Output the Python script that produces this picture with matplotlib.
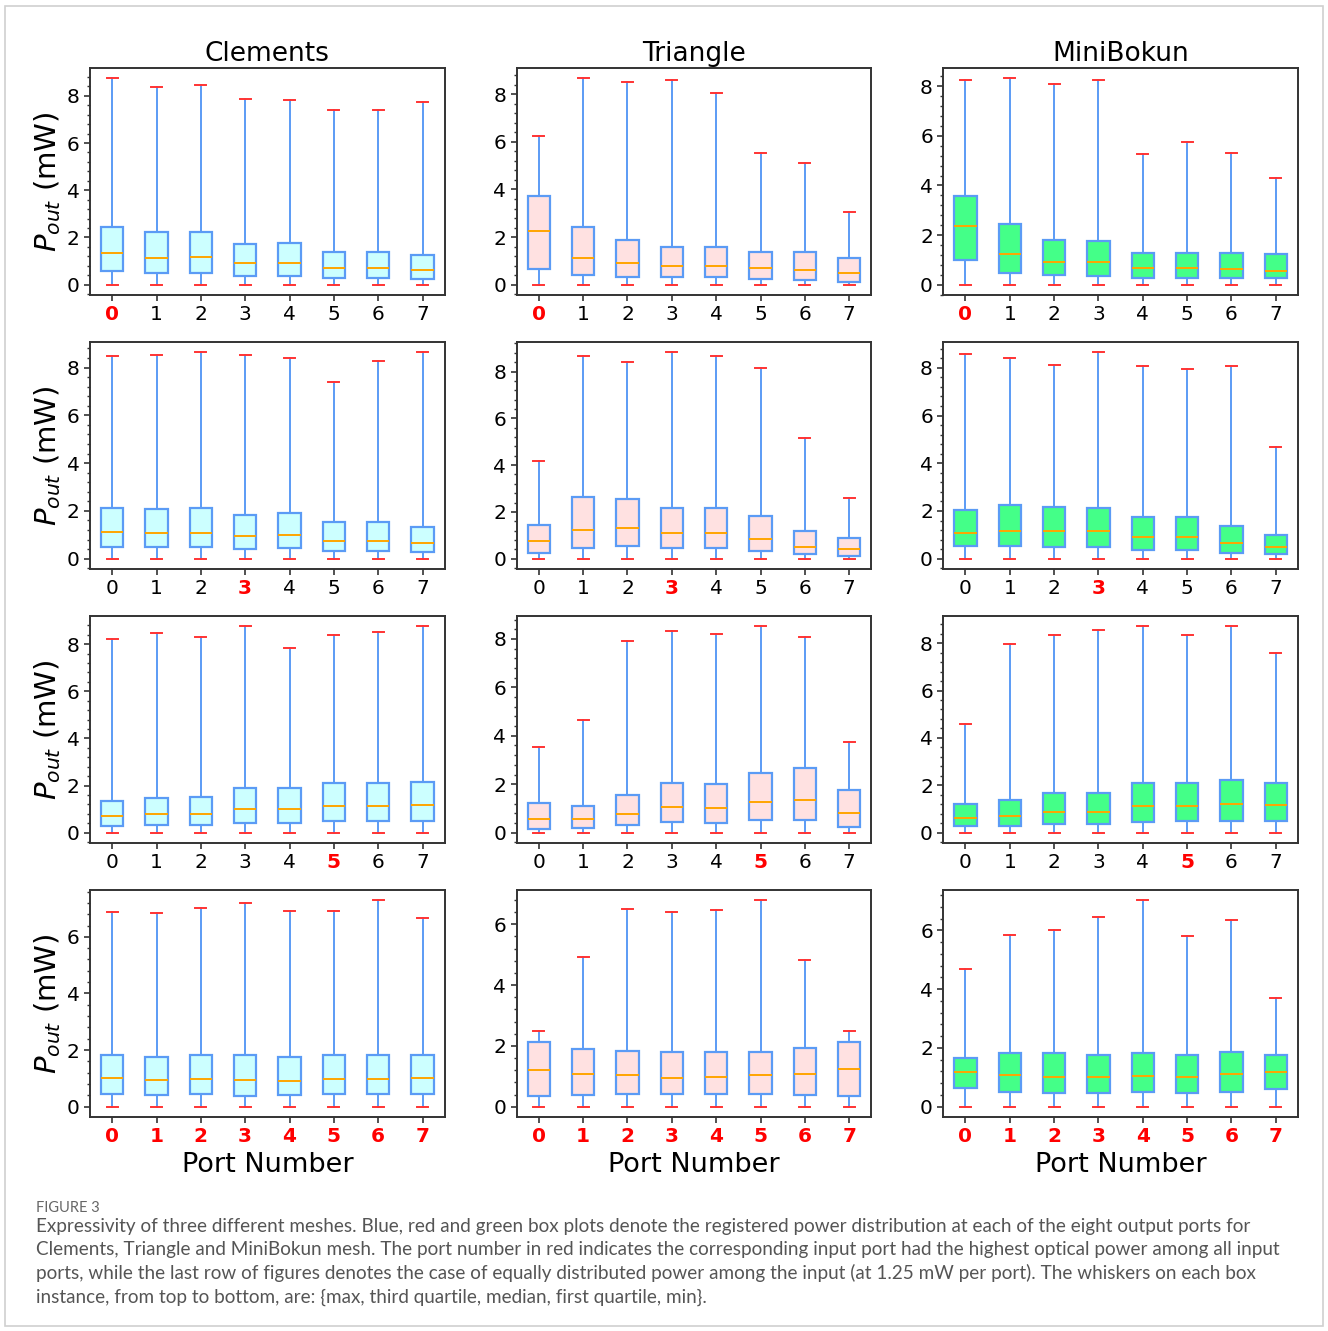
import matplotlib.pyplot as plt
from matplotlib.patches import Rectangle
from matplotlib.ticker import AutoMinorLocator

meshes = ['Clements', 'Triangle', 'MiniBokun']
ports = [0, 1, 2, 3, 4, 5, 6, 7]
# input port with the highest power, per row (last row: equal power)
highlight = [[0], [3], [5], [0, 1, 2, 3, 4, 5, 6, 7]]

# Clements, one list of 8 ports per row
clements_max = [[8.74, 8.37, 8.45, 7.86, 7.83, 7.40, 7.40, 7.72],
                [8.47, 8.52, 8.64, 8.52, 8.40, 7.41, 8.27, 8.64],
                [8.21, 8.47, 8.30, 8.76, 7.85, 8.40, 8.51, 8.76],
                [6.88, 6.84, 7.02, 7.19, 6.91, 6.91, 7.29, 6.68]]
clements_q3 = [[2.46, 2.22, 2.22, 1.71, 1.77, 1.40, 1.40, 1.26],
               [2.14, 2.07, 2.11, 1.84, 1.93, 1.53, 1.53, 1.33],
               [1.36, 1.48, 1.53, 1.88, 1.88, 2.10, 2.10, 2.14],
               [1.84, 1.77, 1.81, 1.81, 1.77, 1.81, 1.84, 1.84]]
clements_med = [[1.36, 1.15, 1.19, 0.91, 0.91, 0.70, 0.70, 0.62],
                [1.12, 1.08, 1.08, 0.97, 1.00, 0.76, 0.76, 0.65],
                [0.70, 0.79, 0.79, 1.00, 1.00, 1.13, 1.13, 1.17],
                [1.02, 0.95, 0.99, 0.95, 0.92, 0.99, 0.99, 1.02]]
clements_q1 = [[0.58, 0.49, 0.49, 0.38, 0.38, 0.28, 0.28, 0.25],
               [0.49, 0.49, 0.49, 0.39, 0.43, 0.31, 0.31, 0.26],
               [0.28, 0.34, 0.34, 0.42, 0.42, 0.51, 0.51, 0.51],
               [0.45, 0.41, 0.45, 0.36, 0.41, 0.45, 0.45, 0.45]]

# Triangle
triangle_max = [[6.26, 8.67, 8.50, 8.59, 8.04, 5.52, 5.11, 3.05],
                [4.16, 8.65, 8.40, 8.82, 8.68, 8.14, 5.16, 2.59],
                [3.53, 4.65, 7.91, 8.34, 8.22, 8.52, 8.07, 3.76],
                [2.48, 4.91, 6.51, 6.40, 6.48, 6.79, 4.82, 2.48]]
triangle_q3 = [[3.71, 2.44, 1.87, 1.59, 1.59, 1.38, 1.38, 1.13],
               [1.43, 2.63, 2.55, 2.15, 2.18, 1.84, 1.18, 0.89],
               [1.24, 1.12, 1.57, 2.04, 2.00, 2.48, 2.67, 1.75],
               [2.12, 1.90, 1.83, 1.80, 1.80, 1.80, 1.93, 2.12]]
triangle_med = [[2.24, 1.13, 0.91, 0.77, 0.77, 0.68, 0.60, 0.49],
                [0.74, 1.23, 1.32, 1.08, 1.10, 0.86, 0.52, 0.41],
                [0.56, 0.56, 0.77, 1.04, 1.00, 1.27, 1.35, 0.81],
                [1.21, 1.06, 1.03, 0.95, 0.99, 1.03, 1.09, 1.25]]
triangle_q1 = [[0.64, 0.40, 0.31, 0.31, 0.31, 0.24, 0.20, 0.13],
               [0.24, 0.44, 0.54, 0.45, 0.45, 0.31, 0.20, 0.11],
               [0.15, 0.19, 0.33, 0.44, 0.41, 0.52, 0.52, 0.23],
               [0.35, 0.38, 0.43, 0.43, 0.43, 0.43, 0.38, 0.35]]

# MiniBokun
minibokun_max = [[8.27, 8.32, 8.08, 8.27, 5.26, 5.74, 5.31, 4.29],
                 [8.57, 8.40, 8.12, 8.65, 8.08, 7.93, 8.08, 4.67],
                 [4.60, 7.97, 8.34, 8.57, 8.71, 8.34, 8.71, 7.57],
                 [4.68, 5.83, 6.00, 6.44, 7.02, 5.80, 6.34, 3.69]]
minibokun_q3 = [[3.56, 2.46, 1.82, 1.75, 1.28, 1.28, 1.28, 1.24],
                [2.03, 2.23, 2.18, 2.14, 1.74, 1.74, 1.36, 1.00],
                [1.23, 1.38, 1.69, 1.69, 2.08, 2.08, 2.24, 2.08],
                [1.66, 1.83, 1.83, 1.76, 1.83, 1.76, 1.86, 1.76]]
minibokun_med = [[2.35, 1.23, 0.91, 0.91, 0.66, 0.66, 0.62, 0.55],
                 [1.06, 1.14, 1.18, 1.14, 0.92, 0.92, 0.67, 0.50],
                 [0.62, 0.70, 0.87, 0.87, 1.12, 1.12, 1.20, 1.15],
                 [1.19, 1.08, 1.02, 1.02, 1.05, 1.02, 1.12, 1.19]]
minibokun_q1 = [[0.98, 0.47, 0.39, 0.33, 0.25, 0.25, 0.25, 0.25],
                [0.53, 0.53, 0.49, 0.49, 0.35, 0.35, 0.25, 0.21],
                [0.27, 0.27, 0.36, 0.36, 0.45, 0.49, 0.49, 0.49],
                [0.64, 0.51, 0.47, 0.47, 0.51, 0.47, 0.51, 0.61]]

port_min = [0.0, 0.0, 0.0, 0.0, 0.0, 0.0, 0.0, 0.0]

mesh_data = {
    'Clements': (clements_max, clements_q3, clements_med, clements_q1),
    'Triangle': (triangle_max, triangle_q3, triangle_med, triangle_q1),
    'MiniBokun': (minibokun_max, minibokun_q3, minibokun_med, minibokun_q1),
}
fill_colors = {'Clements': '#ccffff', 'Triangle': '#ffe1e1', 'MiniBokun': '#44ff88'}
edge_color = '#5b9bf5'

caption_head = 'FIGURE 3'
caption = ("Expressivity of three different meshes. Blue, red and green box plots denote the registered power "
           "distribution at each of the eight output ports for\n"
           "Clements, Triangle and MiniBokun mesh. The port number in red indicates the corresponding input port "
           "had the highest optical power among all input\n"
           "ports, while the last row of figures denotes the case of equally distributed power among the input "
           "(at 1.25 mW per port). The whiskers on each box\n"
           "instance, from top to bottom, are: {max, third quartile, median, first quartile, min}.")

W, H = 1328, 1331
fig, axes = plt.subplots(4, 3, figsize=(W / 100, H / 100), dpi=100)
plt.subplots_adjust(left=90 / W, right=1298 / W, top=1 - 68 / H, bottom=1 - 1117 / H,
                    wspace=72 / 355, hspace=47 / 227)

for r in range(4):
    for c, mesh in enumerate(meshes):
        ax = axes[r, c]
        mx, q3, md, q1 = mesh_data[mesh]
        stats = []
        for i in range(len(ports)):
            stats.append({'whislo': port_min[i], 'q1': q1[r][i], 'med': md[r][i],
                          'q3': q3[r][i], 'whishi': mx[r][i], 'fliers': []})
        ax.bxp(stats, positions=ports, widths=0.5, patch_artist=True, showfliers=False,
               boxprops=dict(facecolor=fill_colors[mesh], edgecolor=edge_color, linewidth=1.6),
               whiskerprops=dict(color=edge_color, linewidth=1.4),
               capprops=dict(color='#ff3333', linewidth=1.4),
               medianprops=dict(color='orange', linewidth=1.4))
        ax.set_xlim(-0.5, 7.5)
        ax.set_xticks(ports)
        ax.set_xticklabels([str(p) for p in ports])
        for p, lbl in zip(ports, ax.get_xticklabels()):
            if p in highlight[r]:
                lbl.set_color('red')
                lbl.set_fontweight('bold')
        ax.tick_params(axis='both', labelsize=14.5, length=4, width=1.2, color='#333333')
        ax.tick_params(axis='y', which='minor', length=2.5, width=1.0, color='#333333')
        ax.yaxis.set_minor_locator(AutoMinorLocator(5))
        for s in ax.spines.values():
            s.set_color('#333333')
            s.set_linewidth(1.4)
        if r == 0:
            ax.set_title(mesh, fontsize=19, pad=5)
        if c == 0:
            ax.set_ylabel('$P_{out}$ (mW)', fontsize=21, labelpad=3)
        if r == 3:
            ax.set_xlabel('Port Number', fontsize=19.5, labelpad=4)

# light frame round the whole figure
fig.patches.append(Rectangle((5 / W, 5 / H), 1318 / W, 1320 / H, transform=fig.transFigure,
                             fill=False, edgecolor='#d0d0d0', linewidth=1.2))

fig.text(36 / W, 1 - 1208 / H, caption_head, fontsize=10.5, color='#666666',
         family='Lato', va='center')
fig.text(36 / W, 1 - 1218 / H, caption, fontsize=13.6, color='#555555',
         family='Lato', va='top', linespacing=1.42)

fig.savefig('out.png', dpi=100)
